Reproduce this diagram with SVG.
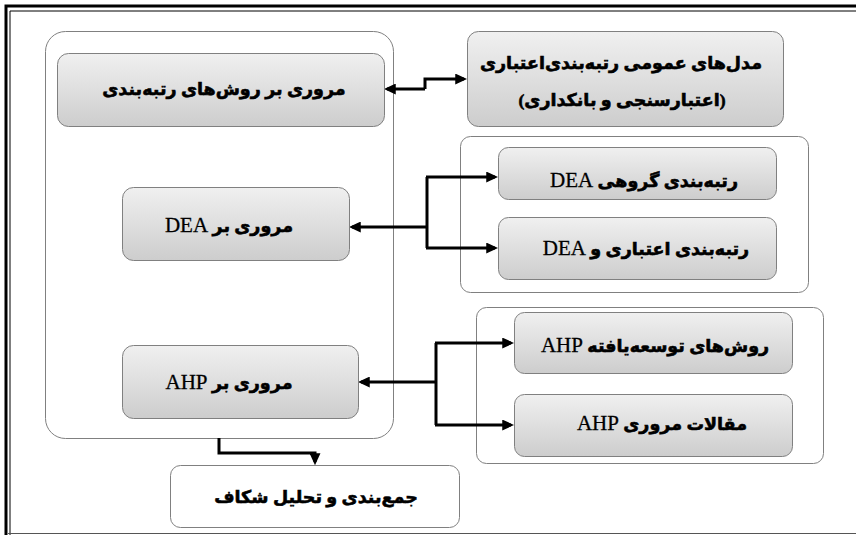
<svg xmlns="http://www.w3.org/2000/svg" width="856" height="535" viewBox="0 0 856 535">
<defs>
<linearGradient id="g" x1="0" y1="0" x2="0" y2="1">
<stop offset="0" stop-color="#f0f0f0"/>
<stop offset="1" stop-color="#cdcdcd"/>
</linearGradient>
<marker id="ah" markerUnits="userSpaceOnUse" markerWidth="12" markerHeight="11" refX="8" refY="5" orient="auto-start-reverse" viewBox="0 0 11 10">
<path d="M0,0 L11,5 L0,10 z" fill="#000"/>
</marker>
<style>
.box{fill:url(#g);stroke:#808080;stroke-width:1}
.wbox{fill:#fff;stroke:#808080;stroke-width:1}
.cont{fill:none;stroke:#808080;stroke-width:1}
.t{font-family:"Liberation Serif","DejaVu Sans",serif;font-weight:bold;font-size:17.5px;fill:#000;stroke:#000;stroke-width:0.6px;text-anchor:middle}
.l{font-size:21px;font-weight:normal;stroke-width:0.3px}
.c{fill:none;stroke:#000;stroke-width:3}
.a{marker-end:url(#ah)}
</style>
</defs>
<rect width="856" height="535" fill="#fff"/>
<g id="frame">
<path d="M856 6 H6 V535" fill="none" stroke="#000" stroke-width="3"/>
<path d="M856 11 H10 V535" fill="none" stroke="#000" stroke-width="1"/>
<line x1="8" y1="533.5" x2="856" y2="533.5" stroke="#555" stroke-width="1"/>
</g>
<g id="containers">
<rect class="cont" x="45.5" y="31.5" width="348" height="407" rx="20"/>
<rect class="cont" x="460.5" y="136.5" width="348" height="156" rx="10"/>
<rect class="cont" x="476.5" y="307.5" width="347" height="156" rx="10"/>
</g>
<g id="connectors">
<path class="c a" d="M425 89 H387"/>
<path class="c a" d="M425 89 V79 H464"/>
<path class="c a" d="M427 227 H352"/>
<path class="c" d="M427 177 V248"/>
<path class="c a" d="M426 177 H495"/>
<path class="c a" d="M426 248 H495"/>
<path class="c a" d="M436 382 H361"/>
<path class="c" d="M436 343 V425"/>
<path class="c a" d="M435 343 H511"/>
<path class="c a" d="M435 425 H511"/>
<path class="c a" d="M219 438 V453 H315 V462"/>
</g>
<g id="n1">
<rect class="box" x="57.5" y="53.5" width="327" height="73" rx="11"/>
<text class="t" x="224" y="95" direction="rtl">مروری بر روش‌های رتبه‌بندی</text>
</g>
<g id="n2">
<rect class="box" x="467.5" y="31.5" width="316" height="95" rx="11"/>
<text class="t" x="621" y="69" direction="rtl">مدل‌های عمومی رتبه‌بندی‌اعتباری</text>
<text class="t" x="622" y="106" direction="rtl">(اعتبارسنجی و بانکداری)</text>
</g>
<g id="n3">
<rect class="box" x="122.5" y="187.5" width="227" height="73" rx="11"/>
<text class="t" x="229" y="232" direction="rtl">مروری بر <tspan class="l">DEA</tspan></text>
</g>
<g id="n4">
<rect class="box" x="498.5" y="147.5" width="278" height="52" rx="10"/>
<text class="t" x="644" y="187" direction="rtl">رتبه‌بندی گروهی <tspan class="l">DEA</tspan></text>
</g>
<g id="n5">
<rect class="box" x="498.5" y="217.5" width="278" height="62" rx="10"/>
<text class="t" x="646" y="255" direction="rtl">رتبه‌بندی اعتباری و <tspan class="l">DEA</tspan></text>
</g>
<g id="n6">
<rect class="box" x="122.5" y="345.5" width="236" height="73" rx="11"/>
<text class="t" x="229" y="389" direction="rtl">مروری بر <tspan class="l">AHP</tspan></text>
</g>
<g id="n7">
<rect class="box" x="514.5" y="312.5" width="278" height="61" rx="10"/>
<text class="t" x="655" y="352" direction="rtl">روش‌های توسعه‌یافته <tspan class="l">AHP</tspan></text>
</g>
<g id="n8">
<rect class="box" x="514.5" y="394.5" width="278" height="62" rx="10"/>
<text class="t" x="662" y="430" direction="rtl">مقالات مروری <tspan class="l">AHP</tspan></text>
</g>
<g id="n9">
<rect class="wbox" x="170.5" y="465.5" width="289" height="62" rx="10"/>
<text class="t" x="316" y="503" direction="rtl">جمع‌بندی و تحلیل شکاف</text>
</g>
</svg>
